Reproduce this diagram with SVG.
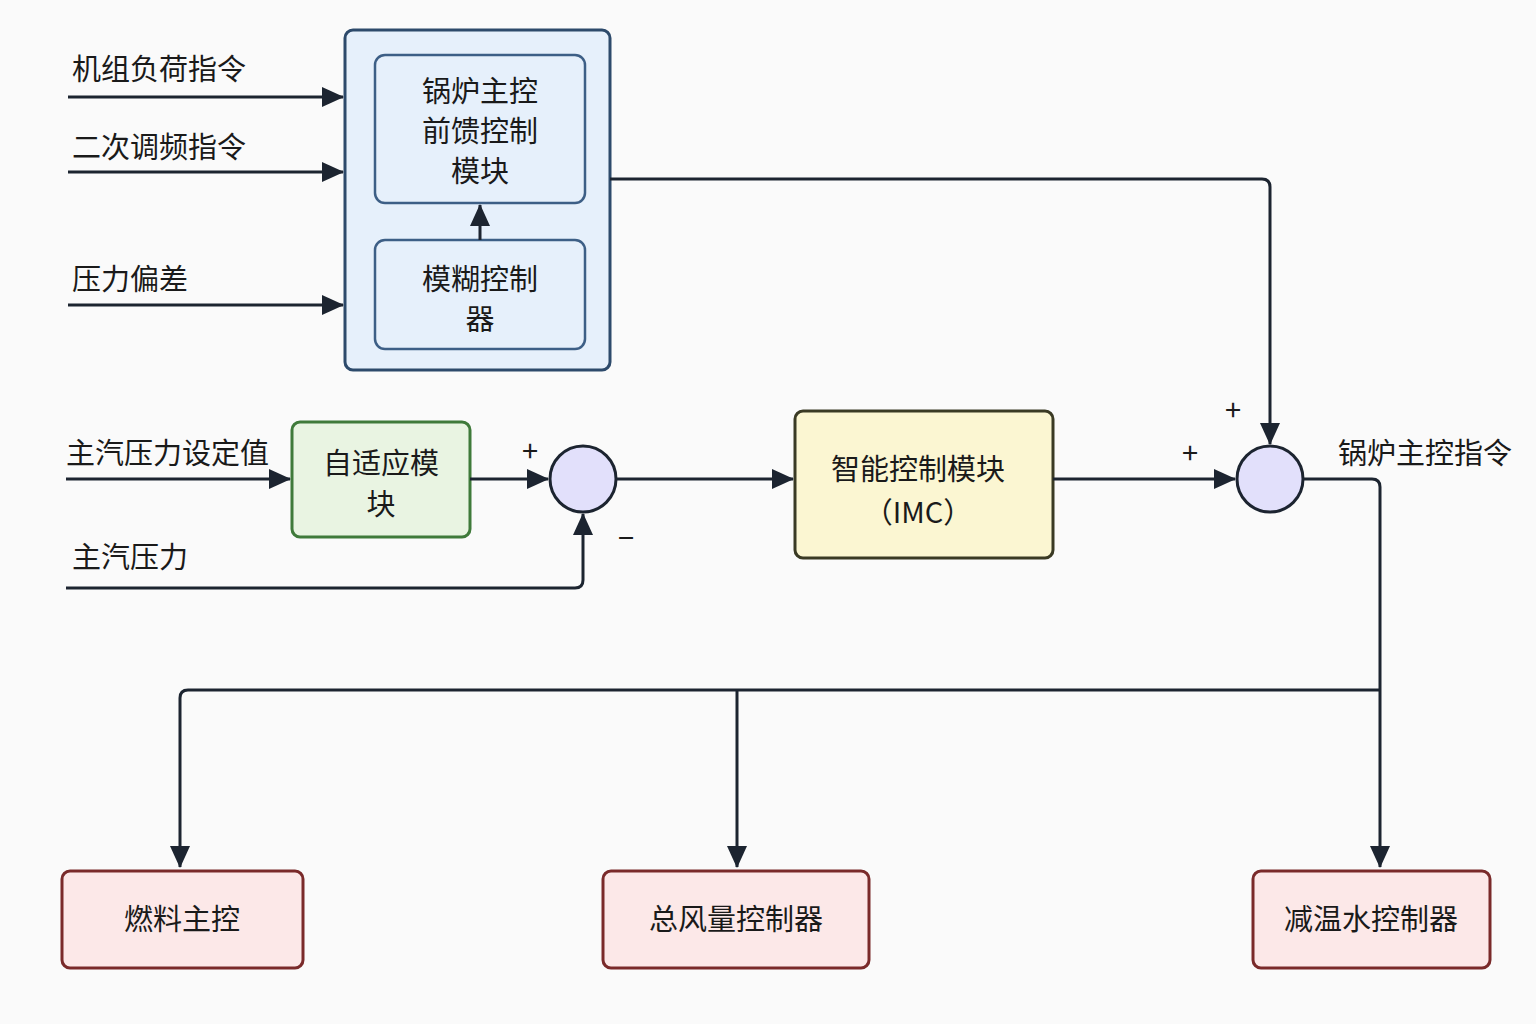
<svg xmlns="http://www.w3.org/2000/svg" width="1536" height="1024" viewBox="0 0 1536 1024">
<style>
text{font-family:"Noto Sans CJK SC","Liberation Sans",sans-serif;font-size:29px;fill:#1a1a1a}
.c{text-anchor:middle}
.ln{fill:none;stroke:#1c2430;stroke-width:3}
</style>
<defs><marker id="a" markerWidth="10" markerHeight="10" refX="9" refY="5" orient="auto" markerUnits="userSpaceOnUse" viewBox="0 0 10 10"><path d="M0,0L10,5L0,10z" fill="#1c2430" transform="scale(1)"/></marker>
<marker id="b" markerWidth="22" markerHeight="20" refX="21" refY="10" orient="auto" markerUnits="userSpaceOnUse"><path d="M0,0L22,10L0,20z" fill="#1c2430"/></marker></defs>
<rect width="1536" height="1024" fill="#fafafa"/>
<g id="feedforward"><rect x="345" y="30" width="265" height="340" rx="8" fill="#e6f0fb" stroke="#2d4a6b" stroke-width="3"/>
<rect x="375" y="55" width="210" height="148" rx="10" fill="#e6f0fb" stroke="#3d5f86" stroke-width="2.5"/>
<text class="c" x="480" y="102">锅炉主控</text><text class="c" x="480" y="142">前馈控制</text><text class="c" x="480" y="182">模块</text></g>
<g id="fuzzy"><rect x="375" y="240" width="210" height="109" rx="10" fill="#e6f0fb" stroke="#3d5f86" stroke-width="2.5"/>
<text class="c" x="480" y="290">模糊控制</text><text class="c" x="480" y="330">器</text></g>
<g id="adaptive"><rect x="292" y="422" width="178" height="115" rx="8" fill="#e9f4e2" stroke="#3f7a3a" stroke-width="3"/>
<text class="c" x="381" y="474">自适应模</text><text class="c" x="381" y="515">块</text></g>
<g id="sum1"><circle cx="583" cy="479" r="33" fill="#e2e0fb" stroke="#1c2430" stroke-width="3"/></g>
<g id="imc"><rect x="795" y="411" width="258" height="147" rx="8" fill="#fbf6d2" stroke="#3a3a24" stroke-width="3"/>
<text class="c" x="918" y="480">智能控制模块</text><text class="c" x="918" y="523">（IMC）</text></g>
<g id="sum2"><circle cx="1270" cy="479" r="33" fill="#e2e0fb" stroke="#1c2430" stroke-width="3"/></g>
<g id="fuel"><rect x="62" y="871" width="241" height="97" rx="8" fill="#fce8e8" stroke="#7a2a2a" stroke-width="3"/><text class="c" x="182" y="930">燃料主控</text></g>
<g id="air"><rect x="603" y="871" width="266" height="97" rx="8" fill="#fce8e8" stroke="#7a2a2a" stroke-width="3"/><text class="c" x="736" y="930">总风量控制器</text></g>
<g id="water"><rect x="1253" y="871" width="237" height="97" rx="8" fill="#fce8e8" stroke="#7a2a2a" stroke-width="3"/><text class="c" x="1371" y="930">减温水控制器</text></g>
<g id="labels">
<text x="72" y="80">机组负荷指令</text><text x="72" y="158">二次调频指令</text><text x="72" y="290">压力偏差</text>
<text x="66" y="464">主汽压力设定值</text><text x="72" y="568">主汽压力</text><text x="1338" y="464">锅炉主控指令</text>
<text class="c" x="530" y="462">+</text><text class="c" x="626" y="549">−</text><text class="c" x="1190" y="464">+</text><text class="c" x="1233" y="421">+</text></g>
<g id="connectors">
<path class="ln" d="M68,97H343" marker-end="url(#b)"/>
<path class="ln" d="M68,172H343" marker-end="url(#b)"/>
<path class="ln" d="M68,305H343" marker-end="url(#b)"/>
<path class="ln" d="M480,240V205" marker-end="url(#b)"/>
<path class="ln" d="M610,179H1262Q1270,179 1270,187V444" marker-end="url(#b)"/>
<path class="ln" d="M66,479H290" marker-end="url(#b)"/>
<path class="ln" d="M470,479H548" marker-end="url(#b)"/>
<path class="ln" d="M66,588H575Q583,588 583,580V514" marker-end="url(#b)"/>
<path class="ln" d="M616,479H793" marker-end="url(#b)"/>
<path class="ln" d="M1053,479H1235" marker-end="url(#b)"/>
<path class="ln" d="M1303,479H1372Q1380,479 1380,487V867" marker-end="url(#b)"/>
<path class="ln" d="M1380,690H188Q180,690 180,698V867" marker-end="url(#b)"/>
<path class="ln" d="M737,690V867" marker-end="url(#b)"/>
</g>
</svg>
